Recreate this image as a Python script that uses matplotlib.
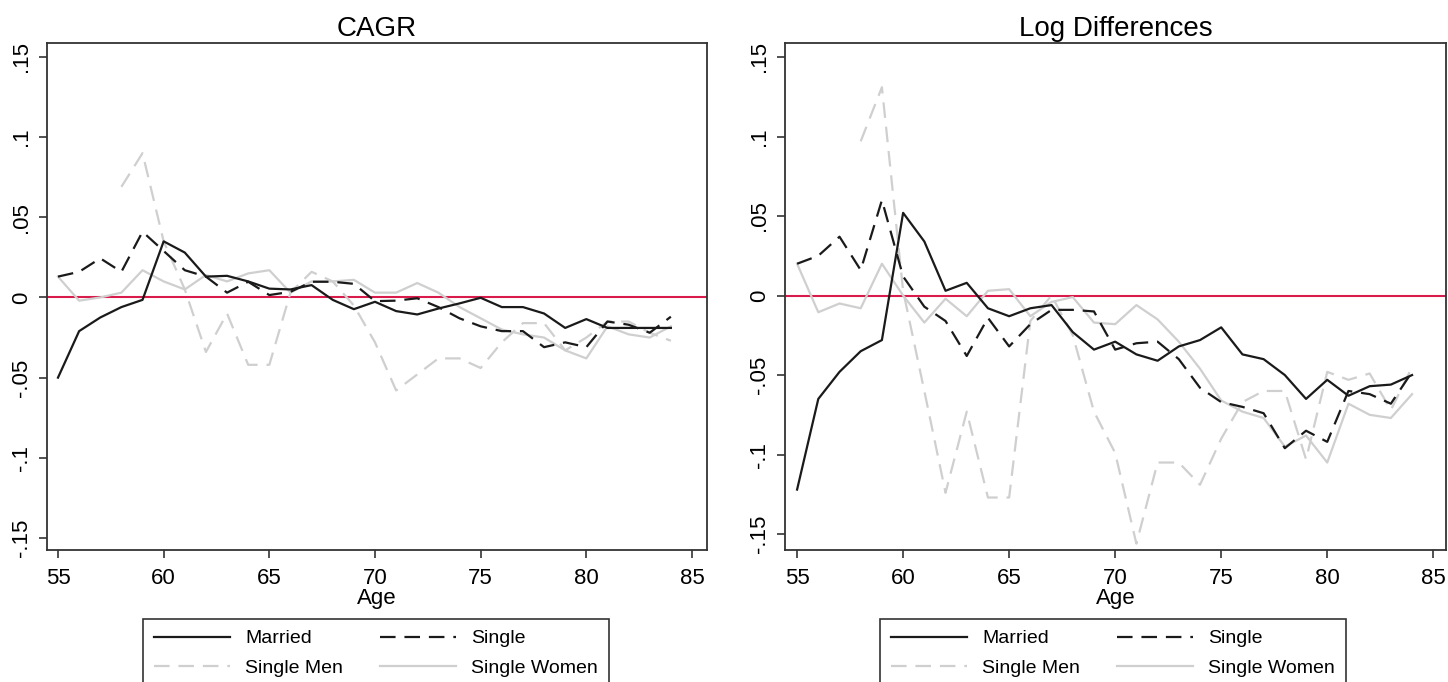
import numpy as np
import matplotlib.pyplot as plt

ages = list(range(55, 85))
ages_men = list(range(58, 85))   # single men series starts at 58

# CAGR panel
cagr_married = [-0.050, -0.021, -0.0125, -0.006, -0.0015, 0.035, 0.028, 0.013, 0.0135, 0.010,
                0.0055, 0.005, 0.0077, -0.0015, -0.0073, -0.0027, -0.0085, -0.0106, -0.0069, -0.0037,
                -0.0002, -0.006, -0.006, -0.010, -0.019, -0.0135, -0.019, -0.019, -0.019, -0.019]
cagr_single = [0.013, 0.016, 0.0244, 0.016, 0.041, 0.029, 0.017, 0.013, 0.003, 0.0098,
               0.0015, 0.0035, 0.0098, 0.0098, 0.0085, -0.0023, -0.002, -0.0005, -0.006, -0.013,
               -0.018, -0.021, -0.021, -0.031, -0.028, -0.031, -0.015, -0.017, -0.022, -0.012]
cagr_men = [0.069, 0.090, 0.035, 0.005, -0.034, -0.010, -0.042, -0.042, 0.003, 0.016,
            0.010, -0.005, -0.028, -0.058, -0.048, -0.038, -0.038, -0.044, -0.028, -0.016,
            -0.016, -0.033, -0.025, -0.015, -0.015, -0.022, -0.027]
cagr_women = [0.013, -0.002, 0.000, 0.003, 0.017, 0.010, 0.005, 0.014, 0.010, 0.015,
              0.017, 0.003, 0.010, 0.010, 0.011, 0.003, 0.003, 0.009, 0.003, -0.006,
              -0.013, -0.020, -0.023, -0.025, -0.033, -0.038, -0.018, -0.023, -0.025, -0.018]

# Log differences panel
log_married = [-0.122, -0.065, -0.048, -0.035, -0.028, 0.052, 0.034, 0.003, 0.008, -0.008,
               -0.013, -0.008, -0.006, -0.023, -0.034, -0.029, -0.037, -0.041, -0.032, -0.028,
               -0.020, -0.037, -0.040, -0.050, -0.065, -0.053, -0.063, -0.057, -0.056, -0.050]
log_single = [0.020, 0.025, 0.037, 0.016, 0.060, 0.012, -0.007, -0.016, -0.038, -0.014,
              -0.032, -0.018, -0.009, -0.009, -0.010, -0.034, -0.030, -0.029, -0.040, -0.058,
              -0.067, -0.070, -0.074, -0.096, -0.085, -0.092, -0.060, -0.062, -0.068, -0.048]
log_men = [0.097, 0.131, 0.003, -0.060, -0.124, -0.073, -0.127, -0.127, -0.016, 0.000,
           -0.025, -0.073, -0.099, -0.156, -0.105, -0.105, -0.119, -0.090, -0.067, -0.060,
           -0.060, -0.103, -0.048, -0.053, -0.049, -0.072, -0.045]
log_women = [0.020, -0.0105, -0.005, -0.008, 0.020, 0.000, -0.017, -0.002, -0.013, 0.003,
             0.004, -0.013, -0.004, -0.001, -0.017, -0.018, -0.006, -0.015, -0.029, -0.046,
             -0.066, -0.073, -0.077, -0.095, -0.088, -0.105, -0.068, -0.075, -0.077, -0.062]

titles = ['CAGR', 'Log Differences']
xticks = [55, 60, 65, 70, 75, 80, 85]
yticks = [-0.15, -0.1, -0.05, 0, 0.05, 0.1, 0.15]
ytick_labels = ['-.15', '-.1', '-.05', '0', '.05', '.1', '.15']
series_names = ['Married', 'Single', 'Single Men', 'Single Women']

font = ['Liberation Sans', 'DejaVu Sans']
frame_col = '#333333'
gray = '#cfcfcf'

W, H = 1448, 682
fig = plt.figure(figsize=(W/100, H/100), dpi=100)
# axes boxes in pixels: (left, right, top, bottom)
ax1 = fig.add_axes([47/W, 1-550/H, (707-47)/W, (550-43)/H])
ax2 = fig.add_axes([785/W, 1-550/H, (1446-785)/W, (550-43)/H])

panels = [(ax1, cagr_married, cagr_single, cagr_men, cagr_women, (54.48, 85.71), (-0.1575, 0.1587)),
          (ax2, log_married, log_single, log_men, log_women, (54.43, 85.6), (-0.16, 0.1588))]

for i, (ax, m, s, sm, sw, xl, yl) in enumerate(panels):
    ax.axhline(0, color='#d81b4a', lw=1.5, zorder=1)
    h_sw, = ax.plot(ages, sw, color=gray, lw=1.6, zorder=2)
    h_sm, = ax.plot(ages_men, sm, color=gray, lw=1.6, dashes=(7, 4), zorder=2)
    h_s, = ax.plot(ages, s, color='#1a1a1a', lw=1.6, dashes=(7, 4), zorder=3)
    h_m, = ax.plot(ages, m, color='#1a1a1a', lw=1.6, zorder=4)

    ax.set_xlim(*xl)
    ax.set_ylim(*yl)
    ax.set_xticks(xticks)
    ax.set_xticklabels([str(t) for t in xticks], family=font, fontsize=16)
    ax.set_yticks(yticks)
    ax.set_yticklabels(ytick_labels, family=font, fontsize=16, rotation=90, va='center')
    ax.tick_params(axis='both', length=6, width=1.2, color=frame_col)
    ax.tick_params(axis='x', pad=7)
    ax.tick_params(axis='y', pad=5)
    for sp in ax.spines.values():
        sp.set_color(frame_col)
        sp.set_linewidth(1.3)
    ax.set_xlabel('Age', family=font, fontsize=16, labelpad=-1)
    ax.set_title(titles[i], family=font, fontsize=20, pad=5)

    # legend below each panel, bottom edge runs off the figure like the original
    x0 = [143, 880][i] / W
    leg = fig.legend([h_m, h_sm, h_s, h_sw],
                     [series_names[0], series_names[2], series_names[1], series_names[3]],
                     ncol=2, loc='upper left', bbox_to_anchor=(x0, 1-619/H),
                     borderaxespad=0, prop={'family': font, 'size': 14},
                     handlelength=3.9, handletextpad=0.8, columnspacing=1.9,
                     borderpad=0.55, labelspacing=0.6, fancybox=False, framealpha=1)
    leg.get_frame().set_edgecolor(frame_col)
    leg.get_frame().set_linewidth(1.2)

fig.savefig('out.png', dpi=100)
